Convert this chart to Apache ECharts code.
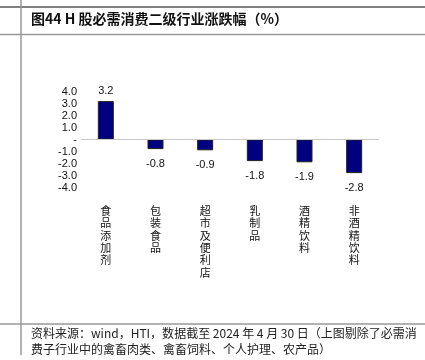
<!DOCTYPE html>
<html><head><meta charset="utf-8">
<script src="https://cdn.jsdelivr.net/npm/echarts@6/dist/echarts.min.js"></script>
<style>html,body{margin:0;padding:0;background:#fff}#c{width:425px;height:360px}</style>
</head><body><div id="c"></div>
<script>
var categories = ['食品添加剂','包装食品','超市及便利店','乳制品','酒精饮料','非酒精饮料'];
var values = [3.2, -0.8, -0.9, -1.8, -1.9, -2.8];
var yTicks = [-4, 4, 1];
var titleText = '图44 H 股必需消费二级行业涨跌幅（%）';
var sourceText = '资料来源：wind，HTI，数据截至 2024 年 4 月 30 日（上图剔除了必需消\n费子行业中的禽畜肉类、禽畜饲料、个人护理、农产品）';

var chart = echarts.init(document.getElementById('c'), null, {renderer:'canvas'});
chart.setOption({
  animation:false,
  grid:{left:81, right:46, top:91.5, height:96, containLabel:false},
  xAxis:{type:'category', data:categories,
    axisLine:{show:false, onZero:false}, axisTick:{show:false},
    axisLabel:{interval:0, margin:17, color:'#111', fontSize:11, lineHeight:12.4,
      fontFamily:'"Noto Sans CJK SC"', verticalAlign:'top',
      formatter:function(v){return v.split('').join('\n');}}},
  yAxis:{type:'value', min:yTicks[0], max:yTicks[1], interval:yTicks[2],
    axisLine:{show:false}, axisTick:{show:false}, splitLine:{show:false},
    axisLabel:{margin:4, color:'#111', fontSize:11, fontFamily:'"Liberation Sans", Arial',
      formatter:function(v){return v===0?'-':v.toFixed(1);}}},
  series:[{type:'bar', barWidth:16,
    data:values.map(function(v){return {value:v, label:{position: v>=0?'top':'bottom', distance: v>=0?5:9}};}),
    itemStyle:{color:'#000080', borderColor:'#222', borderWidth:1},
    label:{show:true, color:'#111', fontSize:11, fontFamily:'"Liberation Sans", Arial',
      formatter:function(p){return p.value.toFixed(1);}},
    markLine:{silent:true, symbol:'none', label:{show:false},
      lineStyle:{color:'#c8c8c8', type:'solid', width:1}, data:[{yAxis:0}]}
  }],
  graphic:[
    {type:'line', shape:{x1:0,y1:7,x2:425,y2:7}, style:{stroke:'#555', lineWidth:1.5}},
    {type:'line', shape:{x1:0,y1:34.5,x2:425,y2:34.5}, style:{stroke:'#999', lineWidth:1.5}},
    {type:'line', shape:{x1:0,y1:324,x2:425,y2:324}, style:{stroke:'#999', lineWidth:1.5}},
    {type:'line', shape:{x1:21,y1:0,x2:21,y2:355}, style:{stroke:'#999', lineWidth:1.5}},
    {type:'text', left:31, top:12, style:{text:titleText, fill:'#111',
      font:'bold 14px "Noto Sans CJK SC"'}},
    {type:'text', left:31, top:325, style:{text:sourceText, fill:'#222', lineHeight:16,
      font:'12px "Noto Sans CJK SC"'}}
  ]
});
</script></body></html>
